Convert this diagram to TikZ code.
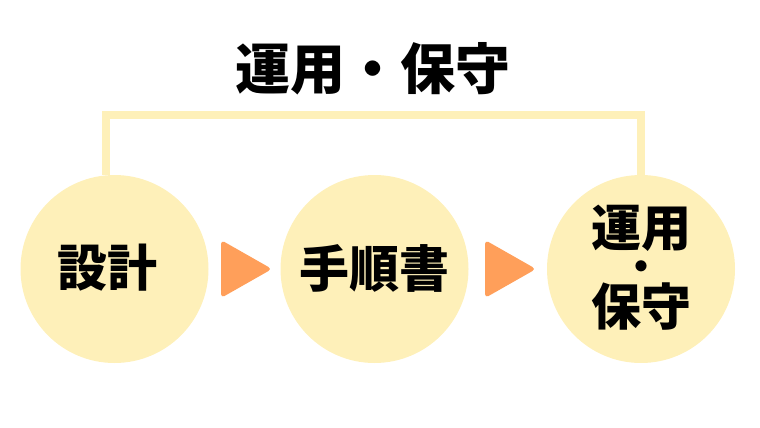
\documentclass[tikz,border=0pt]{standalone}
\usepackage{fontspec}
\newfontfamily\cjk{Noto Sans CJK JP}
\definecolor{circ}{HTML}{FEF0B9}
\definecolor{tri}{HTML}{FF9F5A}
\begin{document}
\begin{tikzpicture}[x=1pt,y=-1pt,
  stagecirc/.style={circle,fill=circ,minimum size=188pt,inner sep=0pt},
  lbl/.style={font=\cjk\bfseries\fontsize{50}{35}\selectfont,inner sep=0pt,align=center},
  bracket/.style={draw=circ,line width=8pt},
  tristyle/.style={fill=tri,rounded corners=4pt}]
\useasboundingbox (0,0) rectangle (760,428);
\node[stagecirc] (c1) at (114.5,269) {};
\node[stagecirc] (c2) at (374.5,269) {};
\node[stagecirc] (c3) at (641,269) {};
\node[lbl] (t1) at (107,268) {設計};
\node[lbl] (t2) at (374.5,268) {手順書};
\node[lbl] (t3) at (641,268) {運用\\{\fontsize{40}{35}\selectfont ・}\\保守};
\node[font=\cjk\bfseries\fontsize{55}{55}\selectfont,inner sep=0pt] (title) at (373,69) {運用・保守};
\draw[bracket] (106,175) -- (106,115) -- (641,115) -- (641,175);
\fill[tristyle] (221,240) -- (272,269) -- (221,298) -- cycle;
\fill[tristyle] (485,240) -- (536,269) -- (485,298) -- cycle;
\end{tikzpicture}
\end{document}
